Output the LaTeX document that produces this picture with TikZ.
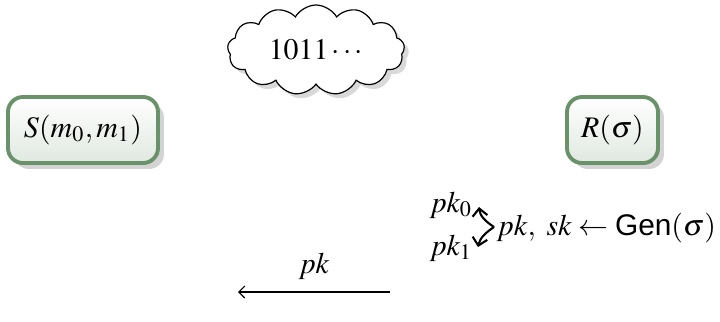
\documentclass[tikz,border=0pt]{standalone}
\usepackage{mathptmx}
\usepackage[no-math]{fontspec}
\setmainfont{Liberation Serif}
\setsansfont{Liberation Sans}
\usetikzlibrary{shapes.symbols,shadows,arrows.meta}
\definecolor{boxborder}{RGB}{106,146,106}
\definecolor{boxbottom}{RGB}{224,232,224}
\newcommand{\pxu}{0.335pt}
\tikzset{
  party/.style={draw=boxborder, line width=1.3pt, rounded corners=5pt,
    top color=white, bottom color=boxbottom,
    drop shadow={opacity=0.35, shadow xshift=2pt, shadow yshift=-2pt},
    minimum height=66*\pxu, inner sep=2pt},
  cloudbox/.style={cloud, draw, cloud puffs=13, cloud puff arc=120, cloud ignores aspect,
    fill=white, drop shadow={opacity=0.3, shadow xshift=1.5pt, shadow yshift=-1.5pt},
    inner sep=1pt, minimum width=177*\pxu, minimum height=90*\pxu},
  msg/.style={-{Straight Barb[length=2pt]}, line width=0.4pt},
  curlarrow/.style={-{Straight Barb[length=2.5pt,width=5pt]}, line width=0.7pt},
}
\begin{document}
\begin{tikzpicture}[x=\pxu,y=-\pxu]
\useasboundingbox (0,0) rectangle (720,321);
\node[cloudbox] (cl) at (316,50) {$1011\cdots$};
\node[party, minimum width=150*\pxu] (S) at (83,130) {$S(m_0,m_1)$};
\node[party, minimum width=91*\pxu] (R) at (612.5,130) {$R(\sigma)$};
\node[anchor=west, inner sep=0pt] (gen) at (496,228) {$pk,\ sk \leftarrow \textsf{Gen}(\sigma)$};
\node[inner sep=0pt] (pk0) at (451,205) {$pk_0$};
\node[inner sep=0pt] (pk1) at (451,248) {$pk_1$};
\coordinate (mid) at (494,227);
\coordinate (t0) at (479,207);
\coordinate (t1) at (478,247);
\draw[curlarrow] (mid) .. controls (485,221) and (480,216) .. (t0);
\draw[curlarrow] (mid) .. controls (485,233) and (480,238) .. (t1);
\coordinate (a1) at (390,292);
\coordinate (a2) at (238,292);
\draw[msg] (a1) -- node[above=3pt, inner sep=1pt] (lab) {$pk$} (a2);
\end{tikzpicture}
\end{document}
